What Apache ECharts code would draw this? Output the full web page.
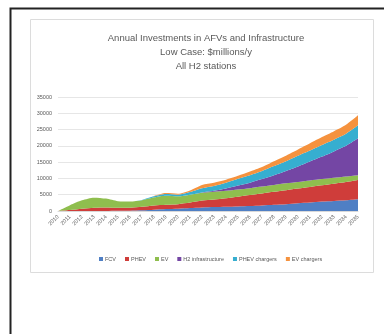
<!DOCTYPE html>
<html>
<head>
<meta charset="utf-8">
<style>
  html, body { margin: 0; padding: 0; background: #fff; }
  #chart { width: 384px; height: 334px; }
</style>
<script src="https://cdn.jsdelivr.net/npm/echarts@6/dist/echarts.min.js"></script>
</head>
<body>
<div id="chart"></div>
<script>
// Years on the category axis
const years = ['2010','2011','2012','2013','2014','2015','2016','2017','2018','2019','2020','2021','2022',
               '2023','2024','2025','2026','2027','2028','2029','2030','2031','2032','2033','2034','2035'];

// Annual investment by component, $ millions per year (stacked)
const fcv        = [0,0,0,0,0,50,100,200,400,600,700,900,1100,1200,1300,1400,1500,1700,1900,2100,2400,2600,2900,3100,3300,3600];
const phev       = [0,300,700,1000,1100,950,900,1100,1300,1300,1400,1700,2100,2300,2600,3000,3400,3700,4000,4300,4500,4800,5000,5300,5600,5900];
const ev         = [0,1500,2600,3100,2700,2000,1900,2000,2500,2800,2400,2400,2400,2400,2300,2200,2100,2100,2100,2100,2000,2000,1900,1800,1700,1500];
const h2Infra    = [0,0,0,0,0,0,0,0,0,0,0,0,100,300,700,1200,1700,2300,3000,3800,4800,5800,6900,8100,9400,11300];
const phevCharge = [0,0,0,0,0,0,0,100,300,500,500,800,1300,1500,1800,2100,2300,2500,2800,3000,3300,3400,3600,3600,3700,4000];
const evCharge   = [0,0,0,0,0,0,0,0,100,300,300,500,1000,1000,900,900,1100,1200,1500,1700,1900,2200,2400,2600,2800,3100];

const yTicks = { min: 0, max: 35000, step: 5000 };

const seriesDefs = [
  { name: 'FCV',              data: fcv,        color: '#4f7fc4' },
  { name: 'PHEV',             data: phev,       color: '#cf3d3a' },
  { name: 'EV',               data: ev,         color: '#8fbe4e' },
  { name: 'H2 infrastructure', data: h2Infra,   color: '#7446a4' },
  { name: 'PHEV chargers',    data: phevCharge, color: '#36aed0' },
  { name: 'EV chargers',      data: evCharge,   color: '#f5923e' }
];

const txt = '#595959';
const font = 'Liberation Sans, Arial, sans-serif';
const chart = echarts.init(document.getElementById('chart'), null, { renderer: 'canvas' });

chart.setOption({
  backgroundColor: '#ffffff',
  animation: false,
  title: {
    text: 'Annual Investments in AFVs and Infrastructure\nLow Case: $millions/y\nAll H2 stations',
    left: 201,
    top: 26,
    textAlign: 'center',
    textStyle: {
      fontFamily: font,
      fontSize: 9.5,
      fontWeight: 'normal',
      color: txt,
      lineHeight: 14
    }
  },
  graphic: [
    { type: 'rect', shape: { x: 10.5, y: 8.5, width: 420, height: 400 },
      style: { fill: 'none', stroke: '#222', lineWidth: 2 }, silent: true, z: -1 },
    { type: 'rect', shape: { x: 30.5, y: 19.5, width: 343, height: 253 },
      style: { fill: 'none', stroke: '#dcdcdc', lineWidth: 1 }, silent: true, z: -1 }
  ],
  legend: {
    top: 251,
    left: 94,
    itemWidth: 4,
    itemHeight: 4,
    itemGap: 9,
    icon: 'rect',
    textStyle: { fontFamily: font, fontSize: 5.5, color: txt, padding: [0, 0, 0, -3] },
    data: seriesDefs.map(s => s.name)
  },
  grid: { left: 58, right: 26, top: 97, bottom: 123, containLabel: false },
  xAxis: {
    type: 'category',
    boundaryGap: false,
    data: years,
    axisLine: { lineStyle: { color: '#d9d9d9' } },
    axisTick: { show: false },
    axisLabel: {
      rotate: 45,
      interval: 0,
      margin: 5,
      fontFamily: font,
      fontSize: 5.5,
      color: txt
    }
  },
  yAxis: {
    type: 'value',
    min: yTicks.min,
    max: yTicks.max,
    interval: yTicks.step,
    axisLine: { show: false },
    axisTick: { show: false },
    splitLine: { lineStyle: { color: '#e6e6e6', width: 1 } },
    axisLabel: {
      margin: 6,
      fontFamily: font,
      fontSize: 5.5,
      color: txt,
      formatter: v => String(v)
    }
  },
  series: seriesDefs.map(s => ({
    name: s.name,
    type: 'line',
    stack: 'total',
    data: s.data,
    symbol: 'none',
    smooth: 0.25,
    lineStyle: { width: 0 },
    areaStyle: { color: s.color, opacity: 1 },
    itemStyle: { color: s.color }
  }))
});
</script>
</body>
</html>
